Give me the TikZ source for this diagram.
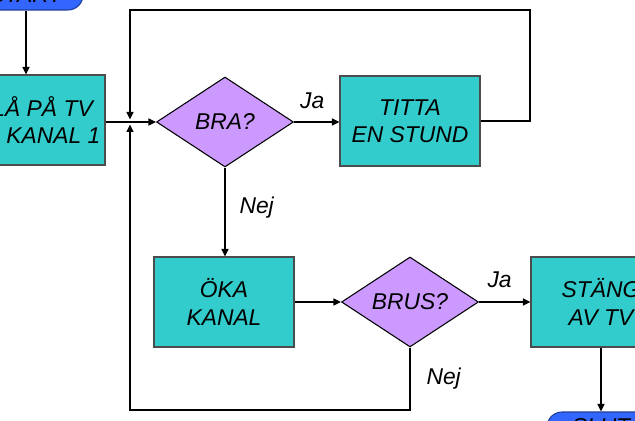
\documentclass[tikz,border=0pt]{standalone}
\usepackage{fontspec}
\setmainfont{Liberation Sans}
\usetikzlibrary{shapes.geometric}
\usetikzlibrary{arrows.meta}

\definecolor{turkos}{RGB}{51,204,204}
\definecolor{lila}{RGB}{204,153,255}
\definecolor{blaa}{RGB}{51,102,255}

\tikzset{
  txt/.style={font=\fontsize{13}{15.5}\selectfont\itshape},
  steg/.style={txt, draw=black!70, fill=turkos, line width=0.6pt,
       minimum width=2.8cm, minimum height=1.8cm, align=center, inner sep=0cm},
  fraga/.style={txt, diamond, draw=black, fill=lila, line width=0.6pt,
       minimum width=2.74cm, minimum height=1.8cm, aspect=1.5, inner sep=0cm},
  term/.style={txt, draw=blaa!60!black, fill=blaa, line width=0.6pt,
       rounded corners=0.3cm, minimum height=0.6cm, inner sep=0cm},
  pil/.style={line width=0.6pt, -{Triangle[length=0.15cm,width=0.14cm]}},
  linje/.style={line width=0.6pt},
  lbl/.style={txt, inner sep=0cm}
}

\begin{document}
\begin{tikzpicture}[x=0.02cm, y=-0.02cm]
\useasboundingbox (0,0) rectangle (635,421);
\clip (0,0) rectangle (635,421);

% the boxes
\draw (26, -5) node[term, minimum width=2.28cm] (start) {START};
\draw (35, 120) node[steg] (slaa) {SLÅ PÅ TV\\PÅ KANAL 1};
\draw (225, 122) node[fraga] (bra) {BRA?};
\draw (410, 121) node[steg] (titta) {TITTA\\EN STUND};
\draw (224, 302) node[steg] (oka) {ÖKA\\KANAL};
\draw (410, 302) node[fraga] (brus) {BRUS?};
\draw (601, 302) node[steg] (stang) {STÄNG\\AV TV};
\draw (601, 427) node[term, minimum width=2.16cm] (slut) {SLUT};

% corners of the two loops
\coordinate (knut) at (130, 122);
\coordinate (uh) at (530, 10);
\coordinate (uv) at (130, 10);
\coordinate (nv) at (130, 410);

% connectors
\draw[pil] (start.south) -- (start.south |- slaa.north);
\draw[pil] (slaa.east |- knut) -- (bra.west);
\draw[pil] (bra.east) -- node[lbl, above=0.26cm, pos=0.4] {Ja} (bra.east -| titta.west);
\draw[pil] (bra.south) -- node[lbl, right=0.28cm, pos=0.45] {Nej} (bra.south |- oka.north);
\draw[pil] (oka.east) -- (brus.west);
\draw[pil] (brus.east) -- node[lbl, above=0.28cm, pos=0.4] {Ja} (stang.west);
\draw[pil] (stang.south) -- (stang.south |- slut.north);
\draw[pil, shorten >=0.05cm] (titta.east) -| (uh) -- (uv) -- (knut);
\draw[pil, shorten >=0.05cm] (brus.south) |- node[lbl, right=0.32cm, pos=0.25] {Nej} (nv) -- (knut);
\end{tikzpicture}
\end{document}
